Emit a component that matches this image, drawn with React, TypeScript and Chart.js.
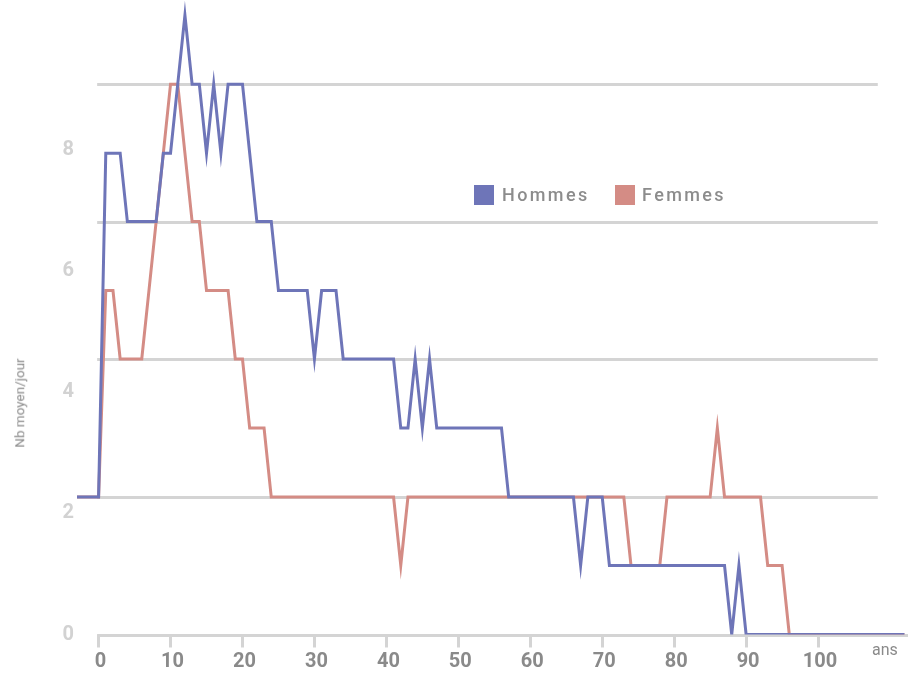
import React, { useEffect, useRef } from "react";
import { Chart, registerables } from "chart.js";

Chart.register(...registerables);

// Ages (x categories): -3 ... 112
const ages = Array.from({ length: 116 }, (_, i) => i - 3);

// Nb moyen/jour — Hommes (ages -3 .. 112)
const hommes = [
  2.27, 2.27, 2.27,
  2.27, 7.95, 7.95, 7.95, 6.82, 6.82, 6.82, 6.82, 6.82, 7.95,
  7.95, 9.09, 10.23, 9.09, 9.09, 7.95, 9.09, 7.95, 9.09, 9.09,
  9.09, 7.95, 6.82, 6.82, 6.82, 5.68, 5.68, 5.68, 5.68, 5.68,
  4.55, 5.68, 5.68, 5.68, 4.55, 4.55, 4.55, 4.55, 4.55, 4.55,
  4.55, 4.55, 3.41, 3.41, 4.55, 3.41, 4.55, 3.41, 3.41, 3.41,
  3.41, 3.41, 3.41, 3.41, 3.41, 3.41, 3.41, 2.27, 2.27, 2.27,
  2.27, 2.27, 2.27, 2.27, 2.27, 2.27, 2.27, 1.14, 2.27, 2.27,
  2.27, 1.14, 1.14, 1.14, 1.14, 1.14, 1.14, 1.14, 1.14, 1.14,
  1.14, 1.14, 1.14, 1.14, 1.14, 1.14, 1.14, 1.14, 0, 1.14,
  0, 0, 0, 0, 0, 0, 0, 0, 0, 0,
  0, 0, 0, 0, 0, 0, 0, 0, 0, 0,
  0, 0, 0,
];

// Nb moyen/jour — Femmes (ages -3 .. 112)
const femmes = [
  2.27, 2.27, 2.27,
  2.27, 5.68, 5.68, 4.55, 4.55, 4.55, 4.55, 5.68, 6.82, 7.95,
  9.09, 9.09, 7.95, 6.82, 6.82, 5.68, 5.68, 5.68, 5.68, 4.55,
  4.55, 3.41, 3.41, 3.41, 2.27, 2.27, 2.27, 2.27, 2.27, 2.27,
  2.27, 2.27, 2.27, 2.27, 2.27, 2.27, 2.27, 2.27, 2.27, 2.27,
  2.27, 2.27, 1.14, 2.27, 2.27, 2.27, 2.27, 2.27, 2.27, 2.27,
  2.27, 2.27, 2.27, 2.27, 2.27, 2.27, 2.27, 2.27, 2.27, 2.27,
  2.27, 2.27, 2.27, 2.27, 2.27, 2.27, 2.27, 2.27, 2.27, 2.27,
  2.27, 2.27, 2.27, 2.27, 1.14, 1.14, 1.14, 1.14, 1.14, 2.27,
  2.27, 2.27, 2.27, 2.27, 2.27, 2.27, 3.41, 2.27, 2.27, 2.27,
  2.27, 2.27, 2.27, 1.14, 1.14, 1.14, 0, 0, 0, 0,
  0, 0, 0, 0, 0, 0, 0, 0, 0, 0,
  0, 0, 0,
];

const seriesNames = ["Hommes", "Femmes"];
const seriesColors = ["#6e75b8", "#d48c85"];
const xTickValues = [0, 10, 20, 30, 40, 50, 60, 70, 80, 90, 100];
const yTickValues = [0, 2, 4, 6, 8];
const gridValues = [2.27, 4.55, 6.82, 9.09];
const xAxisTitle = "ans";
const yAxisTitle = "Nb moyen/jour";

const GRID_COLOR = "#d4d4d4";

const gridPlugin = {
  id: "customGrid",
  beforeDatasetsDraw(chart: any) {
    const { ctx, scales, chartArea } = chart;
    const x = scales.x;
    const y = scales.y;
    ctx.save();
    ctx.strokeStyle = GRID_COLOR;
    ctx.lineWidth = 3;
    for (const v of gridValues) {
      const py = Math.round(y.getPixelForValue(v)) + 0.5;
      ctx.beginPath();
      ctx.moveTo(x.getPixelForValue(-0.2), py);
      ctx.lineTo(x.getPixelForValue(108.3), py);
      ctx.stroke();
    }
    const py0 = Math.round(y.getPixelForValue(0)) + 0.5;
    ctx.beginPath();
    ctx.moveTo(x.getPixelForValue(0) - 1.5, py0);
    ctx.lineTo(chartArea.right, py0);
    ctx.stroke();
    ctx.restore();
  },
};

export default function App() {
  const canvasRef = useRef<HTMLCanvasElement | null>(null);

  useEffect(() => {
    if (!canvasRef.current) return;
    const chart = new Chart(canvasRef.current, {
      type: "line",
      data: {
        datasets: [hommes, femmes].map((series, si) => ({
          label: seriesNames[si],
          data: ages.map((a, i) => ({ x: a, y: series[i] })),
          borderColor: seriesColors[si],
          backgroundColor: seriesColors[si],
          borderWidth: 3,
          pointRadius: 0,
          tension: 0,
          fill: false,
        })),
      },
      options: {
        animation: false,
        responsive: false,
        devicePixelRatio: 1,
        layout: { padding: 0 },
        plugins: {
          legend: { display: false },
          tooltip: { enabled: false },
        },
        scales: {
          x: {
            type: "linear",
            min: -3,
            max: 112.5,
            afterBuildTicks: (s: any) => {
              s.ticks = xTickValues.map((v) => ({ value: v }));
            },
            afterFit: (s: any) => {
              s.height = 38.5;
              s.paddingLeft = 0;
              s.paddingRight = 0;
            },
            ticks: {
              autoSkip: false,
              maxRotation: 0,
              padding: 2,
              labelOffset: 2,
              color: "#8a8a8a",
              font: { family: "Roboto", size: 20, weight: "bold" },
            },
            grid: {
              display: true,
              drawOnChartArea: false,
              drawTicks: true,
              tickLength: 13,
              tickWidth: 3,
              tickColor: GRID_COLOR,
            },
            border: { display: false },
          },
          y: {
            type: "linear",
            min: 0,
            max: 10.48,
            afterBuildTicks: (s: any) => {
              s.ticks = yTickValues.map((v) => ({ value: v }));
            },
            afterFit: (s: any) => {
              s.width = 77;
              s.paddingTop = 0;
              s.paddingBottom = 0;
            },
            ticks: {
              padding: 3,
              color: "#d2d2d2",
              font: { family: "Roboto", size: 20, weight: "bold" },
            },
            grid: { display: false, drawTicks: false },
            border: { display: false },
          },
        },
      },
      plugins: [gridPlugin],
    } as any);
    return () => chart.destroy();
  }, []);

  const legendText: React.CSSProperties = {
    position: "absolute",
    top: 195,
    transform: "translateY(-50%)",
    fontFamily: "Roboto",
    fontSize: 18,
    fontWeight: 500,
    letterSpacing: "2.4px",
    color: "#8c8c8c",
    lineHeight: 1,
    whiteSpace: "nowrap",
  };

  return (
    <div
      style={{
        position: "fixed",
        left: 0,
        top: 0,
        width: 908,
        height: 673,
        background: "#ffffff",
        overflow: "hidden",
      }}
    >
      <canvas ref={canvasRef} width={908} height={673} style={{ display: "block" }} />
      <div style={{ position: "absolute", left: 474, top: 185, width: 20, height: 20, background: seriesColors[0] }} />
      <div style={{ ...legendText, left: 502 }}>{seriesNames[0]}</div>
      <div style={{ position: "absolute", left: 615, top: 185, width: 20, height: 20, background: seriesColors[1] }} />
      <div style={{ ...legendText, left: 642 }}>{seriesNames[1]}</div>
      <div
        style={{
          position: "absolute",
          left: 872,
          top: 641.5,
          fontFamily: "Roboto",
          fontSize: 16,
          lineHeight: "16px",
          color: "#8a8a8a",
          whiteSpace: "nowrap",
        }}
      >
        {xAxisTitle}
      </div>
      <div
        style={{
          position: "absolute",
          left: 20,
          top: 403,
          transform: "translate(-50%, -50%) rotate(-90deg)",
          fontFamily: "Roboto",
          fontSize: 13.5,
          lineHeight: 1,
          color: "#8a8a8a",
          whiteSpace: "nowrap",
        }}
      >
        {yAxisTitle}
      </div>
    </div>
  );
}
